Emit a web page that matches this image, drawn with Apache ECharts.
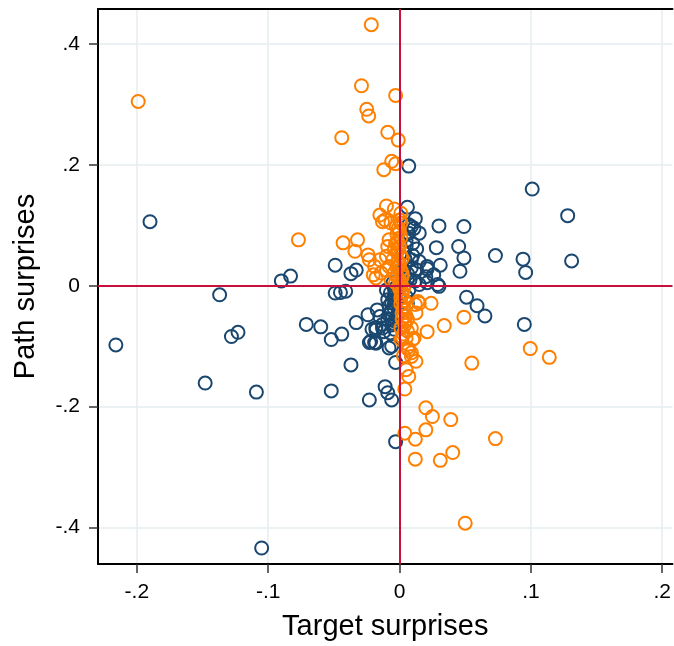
<!DOCTYPE html>
<html>
<head>
<meta charset="utf-8">
<script src="https://cdn.jsdelivr.net/npm/echarts@6/dist/echarts.min.js"></script>
<style>html,body{margin:0;padding:0;background:#fff}#c{width:674px;height:646px}</style>
</head>
<body>
<div id="c"></div>
<script>
// Path vs target surprises (x = target, y = path)
const xTicks = [-0.2, -0.1, 0, 0.1, 0.2];
const yTicks = [-0.4, -0.2, 0, 0.2, 0.4];
const xTickLabels = ['-.2', '-.1', '0', '.1', '.2'];
const yTickLabels = ['-.4', '-.2', '0', '.2', '.4'];

const blueX = [-0.216,-0.190,-0.148,-0.137,-0.128,-0.123,-0.109,-0.105,-0.090,-0.083,-0.071,-0.060,-0.052,-0.052,-0.049,-0.049,-0.044,-0.041,-0.045,-0.037,-0.033,-0.037,-0.033,-0.024,-0.023,-0.023,-0.019,-0.021,-0.018,-0.018,-0.017,-0.015,-0.013,-0.013,-0.012,-0.022,-0.018,-0.011,-0.009,-0.006,-0.008,-0.006,-0.009,-0.007,-0.008,-0.009,-0.010,-0.004,-0.005,-0.007,-0.003,-0.003,0.004,0.005,0.006,0.007,0.015,0.021,0.029,0.030,0.021,0.026,0.020,0.021,0.031,0.028,0.030,0.045,0.049,0.049,0.046,0.073,0.094,0.096,0.101,0.128,0.131,0.051,0.059,0.065,0.095,0.007,0.006,0.012,0.011,0.015,0.007,0.009,0.007,0.013,0.015,0.009,0.013,0.003,0.004,0.006,0.002,0.005,0.008,0.003,0.010,-0.003,-0.004,-0.006,-0.002,-0.005,
  0.005,0.010,0.004,0.009,0.006,0.012,-0.004,-0.007,-0.003,-0.006,-0.004,-0.008,-0.003,-0.006,-0.004];
const blueY = [-0.098,0.106,-0.161,-0.015,-0.084,-0.077,-0.176,-0.434,0.008,0.016,-0.064,-0.068,-0.174,-0.089,0.034,-0.012,-0.080,-0.009,-0.011,0.020,0.026,-0.131,-0.061,-0.048,-0.094,-0.189,-0.094,-0.072,-0.069,-0.073,-0.040,-0.051,-0.064,-0.070,-0.076,-0.092,-0.095,-0.167,-0.177,-0.189,-0.103,-0.100,-0.056,-0.045,-0.034,-0.023,-0.007,-0.018,-0.062,-0.078,-0.127,-0.258,0.002,-0.018,-0.029,-0.007,0.002,0.005,0.002,-0.001,0.028,0.018,0.015,0.032,0.034,0.063,0.099,0.065,0.098,0.046,0.024,0.050,0.044,0.022,0.160,0.116,0.041,-0.019,-0.033,-0.050,-0.064,0.198,0.130,0.111,0.095,0.087,0.087,0.098,0.101,0.061,0.040,0.043,0.026,0.055,0.035,0.020,0.045,0.065,0.010,0.025,0.050,-0.010,-0.030,-0.040,-0.050,0.005,
  0.075,0.070,0.045,0.030,0.012,0.008,-0.005,-0.012,-0.022,-0.028,-0.038,-0.048,-0.055,-0.065,-0.072];

const orangeX = [-0.199,-0.077,-0.044,-0.043,-0.032,-0.034,-0.024,-0.023,-0.019,-0.015,-0.014,-0.020,-0.018,-0.0215,-0.029,-0.003,-0.025,-0.0235,-0.009,-0.001,-0.006,-0.003,-0.012,-0.015,-0.010,-0.004,0.000,-0.011,-0.0025,0.001,-0.013,-0.0065,0.001,-0.008,-0.0015,-0.009,-0.004,-0.010,-0.005,-0.008,-0.0015,-0.004,0.000,-0.0065,-0.010,-0.002,0.000,-0.001,0.001,-0.002,0.001,0.000,0.002,0.001,0.003,0.002,0.004,0.001,0.003,0.000,-0.003,0.002,0.015,0.024,0.0125,0.006,0.009,0.021,0.034,0.011,0.001,0.005,0.007,0.009,0.0125,0.005,0.007,0.004,0.010,0.003,0.009,0.006,0.014,0.012,0.049,0.0995,0.114,0.055,0.020,0.025,0.039,0.020,0.004,0.012,0.073,0.0405,0.012,0.031,0.050,
  -0.001,0.001,-0.003,0.000,-0.002,0.002,-0.001,0.000,0.002,-0.002,0.001,0.003,0.002,0.004,0.001,0.003,0.005,0.002,0.004,0.006,0.002];
const orangeY = [0.305,0.076,0.245,0.071,0.076,0.057,0.051,0.043,0.032,0.043,0.021,0.018,0.013,0.432,0.331,0.315,0.292,0.281,0.254,0.241,0.206,0.202,0.192,0.117,0.132,0.127,0.109,0.109,0.098,0.120,0.106,0.104,0.104,0.076,0.073,0.065,0.060,0.049,0.043,0.032,0.038,0.021,0.010,0.010,0.026,0.085,0.090,0.060,0.050,0.030,0.025,0.000,-0.010,-0.020,-0.035,-0.045,-0.060,-0.070,-0.080,-0.005,0.005,0.015,-0.029,-0.029,-0.045,-0.056,-0.070,-0.076,-0.066,-0.087,-0.089,-0.087,-0.106,-0.117,-0.125,-0.139,-0.150,-0.171,-0.089,-0.116,-0.111,-0.1025,-0.026,-0.031,-0.052,-0.104,-0.1185,-0.128,-0.202,-0.2165,-0.2215,-0.2385,-0.244,-0.254,-0.253,-0.276,-0.287,-0.289,-0.393,
  0.095,0.080,0.070,0.065,0.055,0.045,0.040,0.035,0.020,0.015,0.005,-0.005,-0.015,-0.025,-0.030,-0.040,-0.050,-0.055,-0.065,-0.075,-0.085];

const blueColor = '#1a476f';
const orangeColor = '#ff8000';
const zeroColor = '#c8103c';
const gridColor = '#e6eef0';

function pairs(xs, ys) { return xs.map((x, i) => [x, ys[i]]); }

const chart = echarts.init(document.getElementById('c'), null, {renderer: 'canvas'});
const labelFont = {fontFamily: 'Liberation Sans, Arial, sans-serif', fontSize: 21, color: '#000'};
chart.setOption({
  animation: false,
  backgroundColor: '#fff',
  grid: {left: 98, top: 9, right: 0, bottom: 81, containLabel: false},
  xAxis: [{
    type: 'value', min: -0.2296, max: 0.2078,
    name: 'Target surprises', nameLocation: 'middle', nameGap: 48,
    nameTextStyle: {fontFamily: 'Liberation Sans, Arial, sans-serif', fontSize: 29, color: '#000'},
    axisLine: {show: true, onZero: false, lineStyle: {color: '#000', width: 2}},
    axisTick: {show: true, length: 9, customValues: xTicks, lineStyle: {color: '#333', width: 1.5}},
    axisLabel: Object.assign({margin: 18, customValues: xTicks,
      formatter: v => { const i = xTicks.findIndex(t => Math.abs(t - v) < 1e-9); return i >= 0 ? xTickLabels[i] : ''; }}, labelFont),
    splitLine: {show: true, lineStyle: {color: gridColor, width: 1.5}}
  }, {
    type: 'value', position: 'top', min: -0.2296, max: 0.2078,
    axisLine: {show: true, onZero: false, lineStyle: {color: '#000', width: 2}},
    axisTick: {show: false}, axisLabel: {show: false}, splitLine: {show: false}
  }],
  yAxis: {
    type: 'value', min: -0.4605, max: 0.458,
    name: 'Path surprises', nameLocation: 'middle', nameGap: 58, nameRotate: 90,
    nameTextStyle: {fontFamily: 'Liberation Sans, Arial, sans-serif', fontSize: 29, color: '#000'},
    axisLine: {show: true, onZero: false, lineStyle: {color: '#000', width: 2}},
    axisTick: {show: true, length: 9, customValues: yTicks, lineStyle: {color: '#333', width: 1.5}},
    axisLabel: Object.assign({margin: 18, customValues: yTicks,
      formatter: v => { const i = yTicks.findIndex(t => Math.abs(t - v) < 1e-9); return i >= 0 ? yTickLabels[i] : ''; }}, labelFont),
    splitLine: {show: true, lineStyle: {color: gridColor, width: 1.5}}
  },
  series: [{
    type: 'scatter', data: [], z: 1, silent: true,
    markLine: {
      silent: true, symbol: ['none', 'none'], label: {show: false},
      lineStyle: {color: zeroColor, width: 2, type: 'solid'},
      data: [{xAxis: 0}, {yAxis: 0}]
    }
  }, {
    type: 'scatter', name: 'blue', z: 3,
    data: pairs(blueX, blueY), symbol: 'circle', symbolSize: 13,
    itemStyle: {color: 'rgba(0,0,0,0)', borderColor: blueColor, borderWidth: 2, opacity: 1}
  }, {
    type: 'scatter', name: 'orange', z: 4,
    data: pairs(orangeX, orangeY), symbol: 'circle', symbolSize: 13,
    itemStyle: {color: 'rgba(0,0,0,0)', borderColor: orangeColor, borderWidth: 2, opacity: 1}
  }]
});
</script>
</body>
</html>
